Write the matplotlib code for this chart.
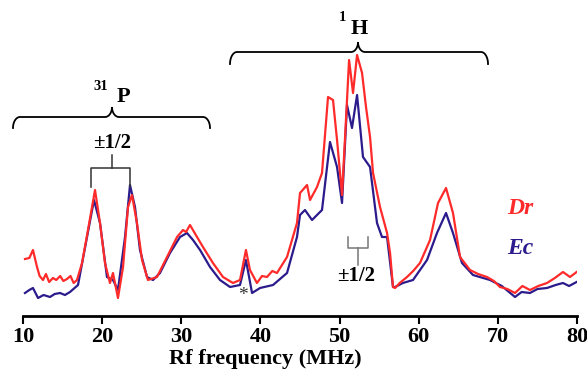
import numpy as np
import matplotlib
matplotlib.use('Agg')
import matplotlib.pyplot as plt

# Dr spectrum (red) - frequency in MHz, intensity in arbitrary units
dr_freq = [10.25, 10.8, 11.26, 11.77, 12.1, 12.53, 12.9, 13.3, 13.79, 14.2, 14.7, 15.1, 15.56,
           16.0, 16.4, 16.82, 17.46, 18.21, 19.10, 19.73, 20.36, 20.99, 21.37, 22.00, 22.64,
           23.27, 23.77, 24.40, 25.04, 25.79, 26.93, 28.20, 29.46, 30.22, 30.6, 31.10, 31.99,
           32.74, 34.00, 35.27, 36.53, 37.42, 38.17, 38.68, 39.56, 40.2, 40.83, 41.5, 42.09,
           43.36, 44.62, 45.00, 45.89, 46.27, 47.15, 47.78, 48.54, 49.17, 49.68, 50.31, 50.94,
           51.20, 51.70, 52.21, 52.84, 53.34, 53.85, 54.23, 55.11, 56.00, 56.38, 56.75, 57.01,
           57.6, 58.52, 59.3, 60.16, 61.43, 62.44, 63.45, 64.33, 65.22, 66.48, 67.5, 68.63,
           69.5, 70.27, 71.2, 72.17, 73.1, 74.06, 75.1, 76.21, 77.2, 78.23, 79.12, 79.95]
dr_int = [57, 58, 66, 49, 40, 36, 42, 34, 38, 36, 40, 35, 37,
          40, 33, 36, 53, 86, 126, 93, 53, 33, 43, 18, 49,
          109, 121, 93, 56, 36, 39, 59, 79, 86, 84, 91, 79,
          69, 53, 39, 33, 36, 66, 46, 33, 40, 39, 45, 43,
          59, 93, 123, 131, 116, 129, 143, 219, 216, 176, 121, 216,
          256, 223, 261, 243, 209, 179, 143, 109, 83, 63, 29, 28,
          33, 39, 45, 53, 76, 113, 128, 103, 59, 46, 42, 39,
          35, 29, 27, 23, 30, 26, 30, 33, 38, 44, 39, 44]

# Ec spectrum (navy)
ec_freq = [10.25, 10.8, 11.26, 11.90, 12.6, 13.41, 14.0, 14.68, 15.3, 15.94, 16.95, 18.09, 18.97,
           19.73, 20.61, 21.37, 22.00, 22.89, 23.52, 24.15, 24.78, 25.67, 26.43, 27.31, 28.57,
           29.84, 30.72, 31.48, 32.37, 33.63, 34.89, 36.16, 37.42, 38.17, 38.94, 39.95, 41.59,
           43.36, 44.62, 45.00, 45.63, 46.52, 47.78, 48.79, 49.68, 50.31, 50.94, 51.57, 52.21,
           52.96, 53.85, 54.73, 55.36, 56.00, 56.75, 57.01, 58.0, 59.28, 61.05, 62.31, 63.45,
           64.33, 65.47, 66.86, 69.01, 70.5, 72.17, 73.0, 74.06, 75.0, 76.21, 77.3, 78.23, 79.0, 79.95]
ec_int = [23, 26, 28, 18, 21, 19, 22, 23, 21, 24, 31, 79, 116,
          93, 39, 36, 26, 79, 131, 109, 66, 39, 36, 43, 63,
          79, 83, 76, 66, 49, 36, 29, 31, 56, 23, 28, 31,
          43, 79, 101, 106, 96, 106, 174, 149, 113, 211, 188, 221,
          159, 149, 93, 79, 79, 29, 29, 33, 36, 56, 83, 103,
          83, 53, 41, 36, 30, 19, 24, 23, 27, 28, 31, 33, 30, 34]

ticks = [10, 20, 30, 40, 50, 60, 70, 80]

red = '#ff2a2a'
navy = '#2b1b8c'
serif = ['Liberation Serif', 'DejaVu Serif']

fig = plt.figure(figsize=(5.87, 3.77), dpi=100)
ax = fig.add_axes([23 / 587, 61 / 377, 554 / 587, 316 / 377])
ax.plot(dr_freq, dr_int, color=red, lw=1.6, zorder=3)
ax.plot(ec_freq, ec_int, color=navy, lw=1.6, zorder=2)

ax.set_xlim(10, 80)
ax.set_ylim(0, 316)
for s in ['top', 'right', 'left']:
    ax.spines[s].set_visible(False)
ax.spines['bottom'].set_linewidth(2)
ax.set_yticks([])
ax.set_xticks(ticks)
ax.set_xticklabels([str(t) for t in ticks], fontfamily=serif, fontweight='bold', fontsize=16)
ax.tick_params(axis='x', length=6, width=1.5, pad=2)
ax.text(0.437, -0.135, 'Rf frequency (MHz)', transform=ax.transAxes, ha='center', va='center',
        fontfamily=serif, fontweight='bold', fontsize=16)


# helpers: pixel position -> data
def f(px):
    return 10 + (np.asarray(px, dtype=float) - 23) / 7.914


def yv(py):
    return 316 - np.asarray(py, dtype=float)


def draw_brace(xl, xr, xm, ybase, ytip, yend):
    w = 7
    t = np.linspace(0, np.pi / 2, 25)
    # left end: from bottom going up into horizontal
    ex = xl + w * (1 - np.cos(t))
    ey = yend - (yend - ybase) * np.sin(t)
    rx = xr - w * (1 - np.cos(t))
    # middle cusp
    tx1 = xm - w + w * np.sin(t)
    ty1 = ybase - (ybase - ytip) * (1 - np.cos(t))
    tx2 = xm + w - w * np.sin(t)
    xs = np.r_[ex, tx1, tx2[::-1], rx[::-1]]
    ys = np.r_[ey, ty1, ty1[::-1], ey[::-1]]
    ax.plot(f(xs), yv(ys), color='black', lw=1.3, clip_on=False, solid_joinstyle='miter')


draw_brace(13, 210, 112, 117, 107, 128)
draw_brace(230, 488, 358, 52, 42, 64)

kw = dict(fontfamily=serif, fontweight='bold', color='black')
ax.text(f(108), yv(93), '31', ha='right', va='bottom', fontsize=10.5, **kw)
ax.text(f(117), yv(102), 'P', ha='left', va='baseline', fontsize=16, **kw)
ax.text(f(346), yv(24), '1', ha='right', va='bottom', fontsize=10.5, **kw)
ax.text(f(351), yv(34), 'H', ha='left', va='baseline', fontsize=16, **kw)

ax.text(f(112), yv(143), '±1/2', ha='center', va='center', fontsize=15, **kw)
ax.plot(f([112, 112]), yv([155, 168]), color='#333333', lw=1.1)
ax.plot(f([91, 91, 130, 130]), yv([187, 168, 168, 187]), color='#333333', lw=1.1)

gray = '#777777'
ax.plot(f([358, 358]), yv([248, 265]), color=gray, lw=1.1)
ax.plot(f([348, 348, 368, 368]), yv([237, 248, 248, 237]), color=gray, lw=1.1)
ax.text(f(356), yv(276), '±1/2', ha='center', va='center', fontsize=15, **kw)

ax.text(f(243), yv(296), '*', ha='center', va='center', fontsize=14, color='#333333',
        fontfamily=serif)

ax.text(f(520), yv(209), 'Dr', ha='center', va='center', fontsize=17, color=red,
        fontfamily=serif, fontweight='bold', fontstyle='italic')
ax.text(f(520), yv(249), 'Ec', ha='center', va='center', fontsize=17, color=navy,
        fontfamily=serif, fontweight='bold', fontstyle='italic')

fig.savefig('out.png', dpi=100)
